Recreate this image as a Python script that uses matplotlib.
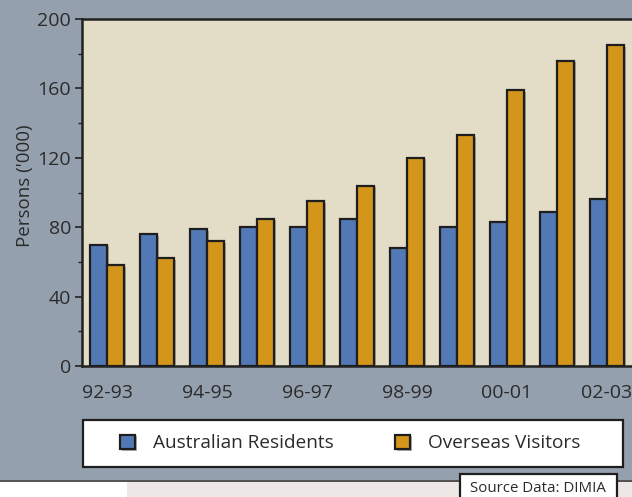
import matplotlib
matplotlib.use("Agg")
import matplotlib.pyplot as plt
import matplotlib.patheffects as pe
from matplotlib.patches import Rectangle
from matplotlib.ticker import MultipleLocator
import numpy as np

plt.rcParams['font.family'] = ['Open Sans', 'DejaVu Sans']

# Financial years and passenger movements (thousands)
years = ["92-93", "93-94", "94-95", "95-96", "96-97", "97-98",
         "98-99", "99-00", "00-01", "01-02", "02-03"]
residents = [70, 76, 79, 80, 80, 85, 68, 80, 83, 89, 96]
visitors = [58, 62, 72, 85, 95, 104, 120, 133, 159, 176, 185]
series_names = ["Australian Residents", "Overseas Visitors"]

BG = "#95a0ae"
PLOT_BG = "#e3dcc6"
BLUE = "#5279b5"
ORANGE = "#d4961a"
TXT = "#2b2b2b"

W, H = 632, 497
fig = plt.figure(figsize=(W / 100, H / 100), dpi=100)
fig.patch.set_facecolor("white")

# page backgrounds
fig.patches.append(Rectangle((0, 1 - 480 / H), 1, 480 / H, transform=fig.transFigure,
                             facecolor=BG, edgecolor="none", zorder=-5))
fig.patches.append(Rectangle((127 / W, 0), 1 - 127 / W, 1 - 481 / H, transform=fig.transFigure,
                             facecolor="#ede8e6", edgecolor="none", zorder=-5))
fig.lines.append(plt.Line2D([0, 1], [1 - 480.5 / H] * 2, transform=fig.transFigure,
                            color="#333333", lw=1.2, zorder=-4))

ax = fig.add_axes([82 / W, 1 - 366 / H, (W - 82) / W, (366 - 19) / H])
ax.set_facecolor(PLOT_BG)

x = np.arange(len(years))
bw = 0.34
shadow = [pe.SimplePatchShadow(offset=(1.2, -1.2), shadow_rgbFace="#555555", alpha=0.45),
          pe.Normal()]
b1 = ax.bar(x - bw / 2, residents, bw, color=BLUE, edgecolor="#1e1e1e", linewidth=1.6,
            label=series_names[0], zorder=3)
b2 = ax.bar(x + bw / 2, visitors, bw, color=ORANGE, edgecolor="#1e1e1e", linewidth=1.6,
            label=series_names[1], zorder=3)
for p in list(b1) + list(b2):
    p.set_path_effects(shadow)

ax.set_xlim(-0.5, len(years) - 0.5)
ax.set_ylim(0, 200)
ax.yaxis.set_major_locator(MultipleLocator(40))
ax.yaxis.set_minor_locator(MultipleLocator(20))
ax.set_xticks(x[::2])
ax.set_xticklabels(years[::2])
ax.tick_params(axis="x", length=0, pad=13, labelsize=14, labelcolor=TXT)
ax.tick_params(axis="y", which="major", length=5, width=1.2, color="#222222",
               labelsize=14, labelcolor=TXT, pad=3)
ax.tick_params(axis="y", which="minor", length=3, width=1.0, color="#222222")

for s in ["left", "top", "bottom"]:
    ax.spines[s].set_linewidth(1.8)
    ax.spines[s].set_color("#222222")
ax.spines["right"].set_visible(False)

fig.text(25 / W, 1 - 186 / H, "Persons ('000)", rotation=90, ha="center", va="center",
         fontsize=13.5, color=TXT)

# legend box
fig.patches.append(Rectangle((83 / W, 1 - 467 / H), (623 - 83) / W, (467 - 420) / H,
                             transform=fig.transFigure, facecolor="white",
                             edgecolor="#1e1e1e", linewidth=1.6, zorder=2))
leg = fig.legend(handles=[b1, b2], labels=series_names, loc="center left",
                 bbox_to_anchor=(103 / W, 1 - 443.5 / H), ncol=2, frameon=False,
                 fontsize=13.7, handlelength=0.8, handleheight=0.8,
                 handletextpad=0.95, columnspacing=3.2, labelcolor=TXT)
leg.set_zorder(3)

# source note
fig.patches.append(Rectangle((460 / W, -0.02), (617 - 460) / W, 1 - 474 / H + 0.02,
                             transform=fig.transFigure, facecolor="white",
                             edgecolor="#1e1e1e", linewidth=1.6, zorder=2))
fig.text(538 / W, 1 - 488.5 / H, "Source Data: DIMIA", ha="center", va="center",
         fontsize=10.8, color=TXT, zorder=3)

fig.savefig("out.png", dpi=100)
